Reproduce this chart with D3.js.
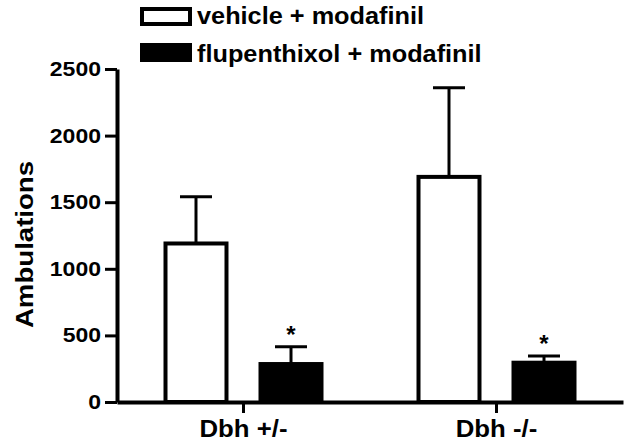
<!DOCTYPE html>
<html>
<head>
<meta charset="utf-8">
<script src="https://cdn.jsdelivr.net/npm/d3@7"></script>
<style>
  body { margin: 0; background: #fff; }
  text { font-family: "Liberation Sans", Arial, sans-serif; font-weight: bold; fill: #000; }
</style>
</head>
<body>
<div id="chart"></div>
<script>
// data
var groups = ["Dbh +/-", "Dbh -/-"];
var series = ["vehicle + modafinil", "flupenthixol + modafinil"];
var vehicleMean = [1190, 1690];
var vehicleSem = [350, 670];
var flupMean = [285, 295];
var flupSem = [130, 50];
var flupSig = ["*", "*"];
var yTicks = [0, 500, 1000, 1500, 2000, 2500];

// stretch text a bit wider, the original is horizontally stretched
function stretch(sel, k) {
  sel.each(function () {
    var w = this.getComputedTextLength();
    d3.select(this).attr("textLength", w * k).attr("lengthAdjust", "spacingAndGlyphs");
  });
}

var margin = {top: 69, right: 8, bottom: 44, left: 117},
    width = 631 - margin.left - margin.right,
    height = 446 - margin.top - margin.bottom;

var root = d3.select("#chart")
  .append("svg")
    .attr("width", 631)
    .attr("height", 446);

var svg = root.append("g")
    .attr("transform", "translate(" + margin.left + "," + margin.top + ")");

// rows for bars
var data = [];
groups.forEach(function (g, i) {
  data.push({group: g, series: series[0], mean: vehicleMean[i], sem: vehicleSem[i], sig: ""});
  data.push({group: g, series: series[1], mean: flupMean[i], sem: flupSem[i], sig: flupSig[i]});
});

var x0 = d3.scaleBand()
  .domain(groups)
  .range([0, width]);

var x1 = d3.scaleBand()
  .domain(series)
  .range([48.5, 204.5])
  .paddingInner(0.358);

var y = d3.scaleLinear()
  .domain([0, 2500])
  .range([height, 0]);

var fill = d3.scaleOrdinal().domain(series).range(["#fff", "#000"]);

// bars
svg.append("g")
  .selectAll("rect")
  .data(data)
  .join("rect")
    .attr("x", d => x0(d.group) + x1(d.series))
    .attr("y", d => y(d.mean))
    .attr("width", x1.bandwidth())
    .attr("height", d => height - y(d.mean))
    .attr("fill", d => fill(d.series))
    .attr("stroke", "#000")
    .attr("stroke-width", 4);

// error bars (upper only)
var eb = svg.append("g").selectAll("g")
  .data(data)
  .join("g")
    .attr("stroke", "#000")
    .attr("stroke-width", 3);

eb.append("line")
  .attr("x1", d => x0(d.group) + x1(d.series) + x1.bandwidth() / 2)
  .attr("x2", d => x0(d.group) + x1(d.series) + x1.bandwidth() / 2)
  .attr("y1", d => y(d.mean))
  .attr("y2", d => y(d.mean + d.sem));

eb.append("line")
  .attr("x1", d => x0(d.group) + x1(d.series) + x1.bandwidth() / 2 - 16)
  .attr("x2", d => x0(d.group) + x1(d.series) + x1.bandwidth() / 2 + 16)
  .attr("y1", d => y(d.mean + d.sem))
  .attr("y2", d => y(d.mean + d.sem));

// significance stars
svg.append("g")
  .selectAll("text")
  .data(data.filter(d => d.sig))
  .join("text")
    .attr("x", d => x0(d.group) + x1(d.series) + x1.bandwidth() / 2)
    .attr("y", d => y(d.mean + d.sem) - 4)
    .attr("text-anchor", "middle")
    .style("font-size", "24px")
    .text(d => d.sig);

// y axis
var yAxis = svg.append("g")
  .call(d3.axisLeft(y).tickValues(yTicks).tickFormat(d3.format("d"))
    .tickSize(12).tickSizeOuter(0).tickPadding(4));
yAxis.select(".domain").attr("stroke-width", 4);
yAxis.selectAll(".tick line").attr("stroke-width", 3);
yAxis.selectAll("text")
  .style("font-size", "20px")
  .attr("fill", "#000");
stretch(yAxis.selectAll("text"), 1.15);

// x axis
var xAxis = svg.append("g")
  .attr("transform", "translate(0," + height + ")")
  .call(d3.axisBottom(x0).tickSize(11).tickSizeOuter(0));
xAxis.select(".domain").attr("stroke-width", 4);
xAxis.selectAll(".tick line").attr("stroke-width", 3);
xAxis.selectAll("text")
  .attr("y", 35)
  .attr("dy", null)
  .style("font-size", "23px")
  .attr("fill", "#000");
stretch(xAxis.selectAll("text"), 1.12);

// y axis title
var yt = root.append("text")
  .attr("transform", "translate(33," + (margin.top + height / 2 + 9) + ") rotate(-90)")
  .attr("text-anchor", "middle")
  .style("font-size", "24px")
  .text("Ambulations");
stretch(yt, 1.15);

// legend
var legend = root.append("g")
  .selectAll("g")
  .data(series)
  .join("g")
    .attr("transform", (d, i) => "translate(142," + (9 + i * 36) + ")");

legend.append("rect")
  .attr("width", 48)
  .attr("height", 15)
  .attr("fill", d => fill(d))
  .attr("stroke", "#000")
  .attr("stroke-width", 4);

var lt = legend.append("text")
  .attr("x", 55)
  .attr("y", (d, i) => 15 + i * 2)
  .style("font-size", "23px")
  .text(d => d);
stretch(lt, 1.1);
</script>
</body>
</html>
